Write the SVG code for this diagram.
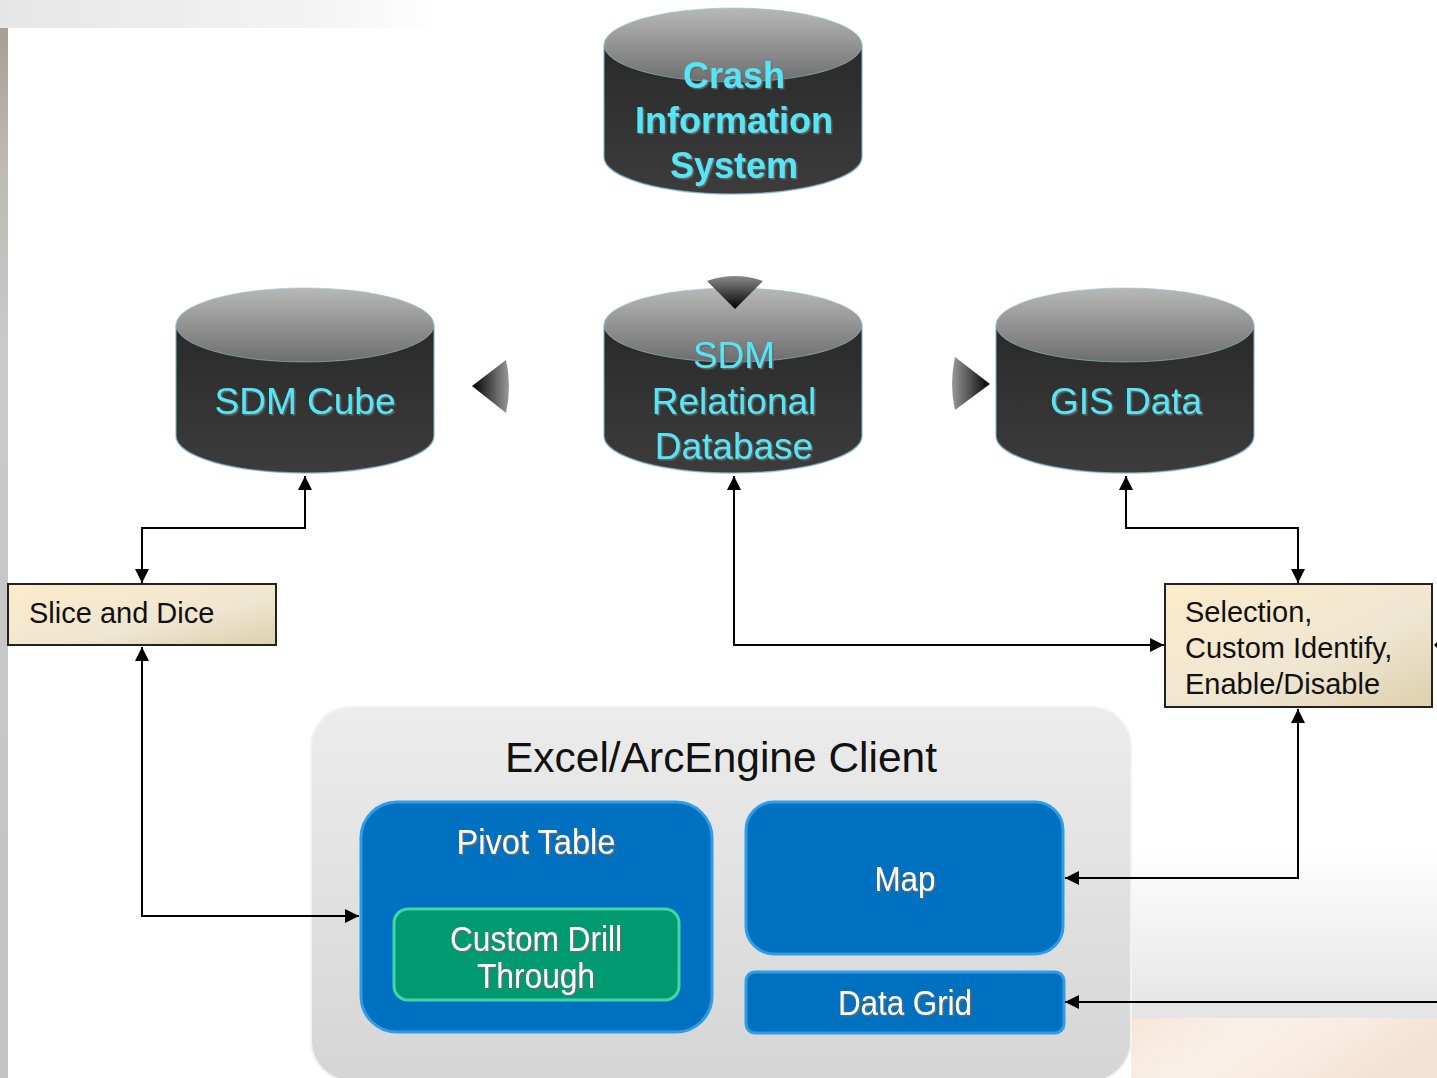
<svg xmlns="http://www.w3.org/2000/svg" width="1437" height="1078" viewBox="0 0 1437 1078">
<defs>
  <linearGradient id="topStrip" x1="0" y1="0" x2="1" y2="0">
    <stop offset="0" stop-color="#e6e6e6"/>
    <stop offset="0.7" stop-color="#f3f3f3"/>
    <stop offset="1" stop-color="#ffffff"/>
  </linearGradient>
  <linearGradient id="leftStrip" x1="0" y1="0" x2="0" y2="1">
    <stop offset="0" stop-color="#a89e94"/>
    <stop offset="0.12" stop-color="#bdb8b2"/>
    <stop offset="0.3" stop-color="#c9c9c9"/>
    <stop offset="1" stop-color="#c4c4c4"/>
  </linearGradient>
  <linearGradient id="rightBg" x1="0" y1="0" x2="0" y2="1">
    <stop offset="0" stop-color="#ffffff"/>
    <stop offset="1" stop-color="#e4e4e4"/>
  </linearGradient>
  <linearGradient id="peach" x1="0" y1="0" x2="1" y2="0.3">
    <stop offset="0" stop-color="#f6e6d8"/>
    <stop offset="0.4" stop-color="#faf0e8"/>
    <stop offset="0.7" stop-color="#f8ebe0"/>
    <stop offset="1" stop-color="#f4e2d4"/>
  </linearGradient>
  <linearGradient id="cylTop" x1="0" y1="0" x2="0" y2="1">
    <stop offset="0" stop-color="#b8b8b8"/>
    <stop offset="1" stop-color="#6e6e6e"/>
  </linearGradient>
  <linearGradient id="cylBody" x1="0" y1="0" x2="0" y2="1">
    <stop offset="0" stop-color="#2a2a2a"/>
    <stop offset="1" stop-color="#3c3c3c"/>
  </linearGradient>
  <linearGradient id="beige" x1="0" y1="0" x2="1" y2="1">
    <stop offset="0" stop-color="#fdebcb"/>
    <stop offset="0.6" stop-color="#efe6d2"/>
    <stop offset="1" stop-color="#ddd0ad"/>
  </linearGradient>
  <linearGradient id="client" x1="0" y1="0" x2="0" y2="1">
    <stop offset="0" stop-color="#ececec"/>
    <stop offset="1" stop-color="#d5d5d5"/>
  </linearGradient>
  <linearGradient id="arrDown" x1="0" y1="0" x2="0" y2="1">
    <stop offset="0" stop-color="#8a8a8a"/>
    <stop offset="1" stop-color="#000000"/>
  </linearGradient>
  <linearGradient id="arrLeft" x1="1" y1="0" x2="0" y2="0">
    <stop offset="0" stop-color="#9a9a9a"/>
    <stop offset="1" stop-color="#000000"/>
  </linearGradient>
  <linearGradient id="arrRight" x1="0" y1="0" x2="1" y2="0">
    <stop offset="0" stop-color="#9a9a9a"/>
    <stop offset="1" stop-color="#000000"/>
  </linearGradient>
  <filter id="shadow" x="-10%" y="-10%" width="120%" height="130%">
    <feDropShadow dx="1.5" dy="1.5" stdDeviation="0.6" flood-color="#6a6a6a" flood-opacity="0.9"/>
  </filter>
  <marker id="arr" viewBox="0 0 14 14" refX="14" refY="7" markerWidth="14" markerHeight="14" markerUnits="userSpaceOnUse" orient="auto-start-reverse">
    <path d="M0,0 L14,7 L0,14 Z" fill="#000"/>
  </marker>
  <style>
    .cyl-top { fill: url(#cylTop); stroke: #8fc2d6; stroke-width: 1; stroke-opacity: 0.6; }
    .cyl-body { fill: url(#cylBody); stroke: #7fb4cc; stroke-width: 1.5; stroke-opacity: 0.7; }
    .cyl-text { font-family: "Liberation Sans", Arial, sans-serif; font-size: 37px; fill: #55e6f5; text-anchor: middle; filter: url(#shadow); }
    .bold { font-weight: bold; font-size: 36px; }
    .note { fill: url(#beige); stroke: #222; stroke-width: 2; }
    .note-text { font-family: "Liberation Sans", Arial, sans-serif; font-size: 29px; fill: #111; }
    .blue { fill: #0070c0; stroke: #2f9de6; stroke-width: 3; }
    .green { fill: #009a70; stroke: #40d6a6; stroke-width: 3; }
    .wtext { font-family: "Liberation Sans", Arial, sans-serif; font-size: 35px; fill: #ffffff; text-anchor: middle; filter: url(#shadow); }
    .conn { fill: none; stroke: #000; stroke-width: 2; }
  </style>
</defs>

<!-- background -->
<rect x="0" y="0" width="1437" height="1078" fill="#ffffff"/>
<rect x="0" y="0" width="440" height="28" fill="url(#topStrip)"/>
<rect x="0" y="28" width="8" height="1050" fill="url(#leftStrip)"/>
<rect x="1131" y="850" width="306" height="168" fill="url(#rightBg)"/>
<rect x="1131" y="1018" width="306" height="60" fill="url(#peach)"/>

<!-- Client container -->
<g id="client-container">
  <rect x="311" y="707" width="820" height="374" rx="40" fill="url(#client)" stroke="#f2f2f2" stroke-width="2"/>
  <text x="721" y="772" font-family="'Liberation Sans', Arial, sans-serif" font-size="42" fill="#111" text-anchor="middle" textLength="432" lengthAdjust="spacingAndGlyphs">Excel/ArcEngine Client</text>
</g>

<!-- Cylinders -->
<g id="crash-info-system">
  <path class="cyl-body" d="M604,45 V157 A129,37 0 0 0 862,157 V45 Z"/>
  <ellipse class="cyl-top" cx="733" cy="45" rx="129" ry="37"/>
  <text class="cyl-text bold" x="734" y="88">Crash</text>
  <text class="cyl-text bold" x="734" y="133">Information</text>
  <text class="cyl-text bold" x="734" y="178">System</text>
</g>

<g id="sdm-cube">
  <path class="cyl-body" d="M176,325 V436 A129,37 0 0 0 434,436 V325 Z"/>
  <ellipse class="cyl-top" cx="305" cy="325" rx="129" ry="37"/>
  <text class="cyl-text" x="305" y="414">SDM Cube</text>
</g>

<g id="sdm-relational">
  <path class="cyl-body" d="M604,325 V436 A129,37 0 0 0 862,436 V325 Z"/>
  <ellipse class="cyl-top" cx="733" cy="325" rx="129" ry="37"/>
  <text class="cyl-text" x="734" y="368">SDM</text>
  <text class="cyl-text" x="734" y="414">Relational</text>
  <text class="cyl-text" x="734" y="459">Database</text>
</g>

<g id="gis-data">
  <path class="cyl-body" d="M996,325 V436 A129,37 0 0 0 1254,436 V325 Z"/>
  <ellipse class="cyl-top" cx="1125" cy="325" rx="129" ry="37"/>
  <text class="cyl-text" x="1126" y="414">GIS Data</text>
</g>

<!-- gradient flow arrows -->
<g id="flow-arrows">
  <path d="M707,281 Q735,271 763,281 L735,309 Z" fill="url(#arrDown)"/>
  <path d="M506,360 Q512,386 506,413 L472,386 Z" fill="url(#arrLeft)"/>
  <path d="M955,357 Q949,384 955,410 L990,384 Z" fill="url(#arrRight)"/>
</g>

<!-- note boxes -->
<g id="slice-and-dice">
  <rect class="note" x="8" y="584" width="268" height="61"/>
  <text class="note-text" x="29" y="623">Slice and Dice</text>
</g>

<g id="selection">
  <rect class="note" x="1165" y="584" width="267" height="123"/>
  <text class="note-text" x="1185" y="622">Selection,</text>
  <text class="note-text" x="1185" y="658">Custom Identify,</text>
  <text class="note-text" x="1185" y="694">Enable/Disable</text>
</g>

<!-- client components -->
<g id="pivot-table">
  <rect class="blue" x="361" y="802" width="351" height="230" rx="36"/>
  <text class="wtext" x="536" y="854" textLength="159" lengthAdjust="spacingAndGlyphs">Pivot Table</text>
</g>

<g id="custom-drill-through">
  <rect class="green" x="394" y="909" width="285" height="91" rx="14"/>
  <text class="wtext" x="536" y="951" textLength="172" lengthAdjust="spacingAndGlyphs">Custom Drill</text>
  <text class="wtext" x="536" y="988" textLength="118" lengthAdjust="spacingAndGlyphs">Through</text>
</g>

<g id="map">
  <rect class="blue" x="746" y="802" width="317" height="152" rx="28"/>
  <text class="wtext" x="905" y="891" textLength="61" lengthAdjust="spacingAndGlyphs">Map</text>
</g>

<g id="data-grid">
  <rect class="blue" x="746" y="972" width="318" height="61" rx="9"/>
  <text class="wtext" x="905" y="1015" textLength="134" lengthAdjust="spacingAndGlyphs">Data Grid</text>
</g>

<!-- connectors -->
<g id="connectors">
  <path class="conn" d="M305,476 V528 H142 V583" marker-start="url(#arr)" marker-end="url(#arr)"/>
  <path class="conn" d="M142,647 V916 H359" marker-start="url(#arr)" marker-end="url(#arr)"/>
  <path class="conn" d="M734,476 V645 H1164" marker-start="url(#arr)" marker-end="url(#arr)"/>
  <path class="conn" d="M1126,476 V528 H1298 V583" marker-start="url(#arr)" marker-end="url(#arr)"/>
  <path class="conn" d="M1298,709 V878 H1065" marker-start="url(#arr)" marker-end="url(#arr)"/>
  <path class="conn" d="M1437,1002 H1065" marker-end="url(#arr)"/>
  <path d="M1434,645 L1437,642 L1437,648 Z" fill="#000"/>
</g>
</svg>
